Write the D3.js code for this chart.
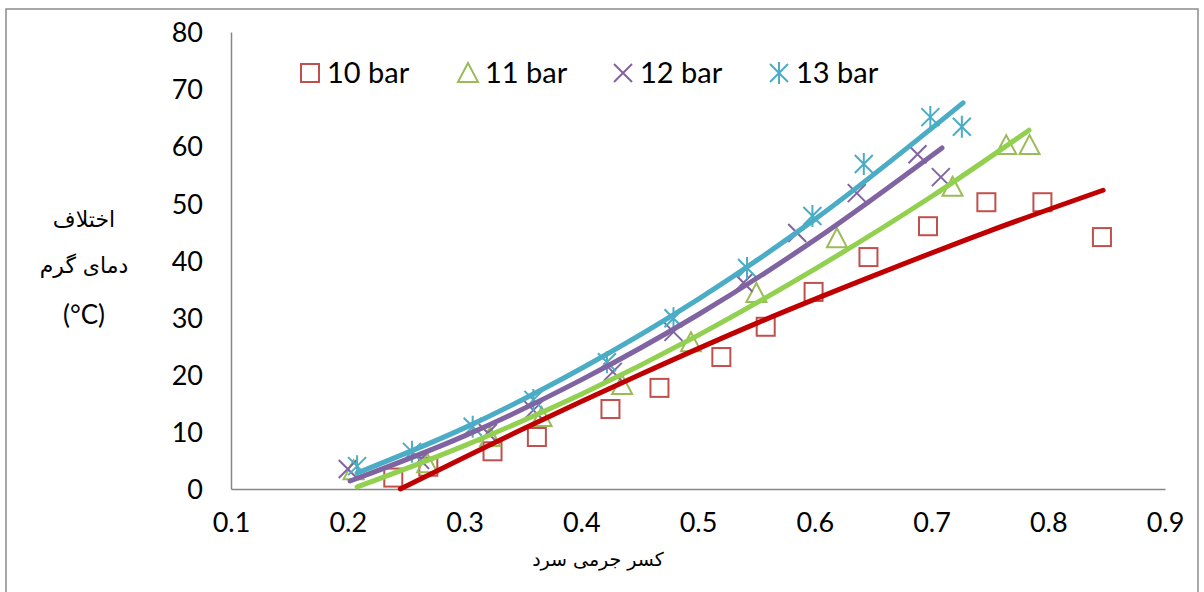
<!DOCTYPE html>
<html>
<head>
<meta charset="utf-8">
<script src="https://cdn.jsdelivr.net/npm/d3@7"></script>
<style>
  body { margin: 0; background: #fff; }
  svg { display: block; }
  .tick text { font-family: Lato, "Open Sans", sans-serif; font-size: 27px; fill: #000; }
  .fa { font-family: "DejaVu Sans", sans-serif; font-size: 22px; fill: #000; }
  .legend text { font-family: Lato, "Open Sans", sans-serif; font-size: 29px; fill: #000; }
</style>
</head>
<body>
<svg id="chart" width="1204" height="592"></svg>
<script>
// measured points, x = cold mass fraction, y = hot temperature difference (°C)
const bar10 = [
  [0.239, 2.0], [0.269, 3.9], [0.324, 6.6], [0.362, 9.1], [0.425, 14.0],
  [0.467, 17.7], [0.520, 23.1], [0.558, 28.4], [0.599, 34.5], [0.646, 40.6],
  [0.697, 46.0], [0.747, 50.2], [0.795, 50.2], [0.846, 44.1]
];
const bar11 = [
  [0.205, 3.3], [0.268, 4.5], [0.322, 9.1], [0.366, 12.6], [0.435, 18.2],
  [0.494, 25.7], [0.550, 34.3], [0.619, 43.9], [0.718, 52.9], [0.764, 60.2],
  [0.784, 60.2]
];
const bar12 = [
  [0.200, 3.5], [0.262, 5.1], [0.320, 9.8], [0.359, 13.8], [0.427, 20.5],
  [0.479, 27.5], [0.539, 36.1], [0.585, 44.8], [0.636, 51.8], [0.688, 58.6],
  [0.708, 54.6]
];
const bar13 = [
  [0.208, 4.0], [0.255, 6.5], [0.307, 10.9], [0.359, 15.6], [0.422, 22.2],
  [0.479, 29.9], [0.542, 38.7], [0.598, 47.8], [0.642, 56.9], [0.699, 65.1],
  [0.726, 63.4]
];

// trend lines
const trend10 = [[0.245, 0], [0.35, 10.5], [0.45, 20.0], [0.55, 29.0], [0.65, 37.3], [0.75, 45.2], [0.847, 52.3]];
const trend11 = [[0.208, 0.35], [0.3, 7.6], [0.4, 16.6], [0.5, 26.9], [0.6, 38.5], [0.7, 51.2], [0.7835, 62.8]];
const trend12 = [[0.202, 1.4], [0.3, 9.3], [0.4, 19.1], [0.5, 30.5], [0.6, 43.6], [0.709, 59.7]];
const trend13 = [[0.208, 2.8], [0.3, 10.7], [0.4, 21.1], [0.5, 33.2], [0.6, 47.2], [0.727, 67.6]];

const seriesNames = ["10 bar", "11 bar", "12 bar", "13 bar"];
const xTicks = [0.1, 0.2, 0.3, 0.4, 0.5, 0.6, 0.7, 0.8, 0.9];
const yTicks = [0, 10, 20, 30, 40, 50, 60, 70, 80];

const MARKER_COLORS = ["#c0504d", "#9bbb59", "#8064a2", "#4bacc6"];
const LINE_COLORS = ["#c00000", "#92d050", "#8064a2", "#4bacc6"];
const SHAPES = ["square", "triangle", "cross", "star"];

const svg = d3.select("#chart");

// outer chart frame
svg.append("rect")
  .attr("x", 6).attr("y", 9)
  .attr("width", 1192).attr("height", 600)
  .attr("fill", "none")
  .attr("stroke", "#8c8c8c")
  .attr("stroke-width", 1.5);

const x = d3.scaleLinear().domain([0.1, 0.9]).range([231, 1165]);
const y = d3.scaleLinear().domain([0, 80]).range([489, 32]);

// axes
const yAxis = svg.append("g")
  .attr("transform", "translate(231,0)")
  .call(d3.axisLeft(y).tickValues(yTicks).tickSize(0).tickPadding(28));
yAxis.select(".domain").attr("stroke", "#868686").attr("stroke-width", 1.5);
yAxis.selectAll(".tick text").attr("dy", "0.36em");

const xAxis = svg.append("g")
  .attr("transform", "translate(0,489)")
  .call(d3.axisBottom(x).tickValues(xTicks).tickFormat(d3.format(".1f")).tickSize(0).tickPadding(24));
xAxis.select(".domain").attr("stroke", "#868686").attr("stroke-width", 1.5);

// marker drawing
function drawMarker(sel, shape, color, s) {
  const h = s / 2;
  if (shape === "square") {
    sel.append("rect").attr("x", -h).attr("y", -h).attr("width", s).attr("height", s)
      .attr("fill", "none").attr("stroke", color).attr("stroke-width", 2);
  } else if (shape === "triangle") {
    sel.append("path").attr("d", `M0,${-h - 1}L${h + 1},${h}L${-h - 1},${h}Z`)
      .attr("fill", "none").attr("stroke", color).attr("stroke-width", 2);
  } else if (shape === "cross") {
    sel.append("path").attr("d", `M${-h},${-h}L${h},${h}M${h},${-h}L${-h},${h}`)
      .attr("stroke", color).attr("stroke-width", 2);
  } else {
    sel.append("path").attr("d", `M${-h},${-h}L${h},${h}M${h},${-h}L${-h},${h}M0,${-h - 2}L0,${h + 2}`)
      .attr("stroke", color).attr("stroke-width", 2);
  }
}

const allPoints = [bar10, bar11, bar12, bar13];
const allTrends = [trend10, trend11, trend12, trend13];

allPoints.forEach((pts, i) => {
  svg.append("g")
    .selectAll("g")
    .data(pts)
    .join("g")
    .attr("transform", (d) => `translate(${x(d[0])},${y(d[1])})`)
    .each(function () { drawMarker(d3.select(this), SHAPES[i], MARKER_COLORS[i], 18); });
});

const line = d3.line()
  .x((d) => x(d[0]))
  .y((d) => y(d[1]))
  .curve(d3.curveMonotoneX);

allTrends.forEach((pts, i) => {
  svg.append("path")
    .datum(pts)
    .attr("d", line)
    .attr("fill", "none")
    .attr("stroke", LINE_COLORS[i])
    .attr("stroke-width", 5)
    .attr("stroke-linecap", "round");
});

// legend
const legendX = [310, 468, 623, 779];
const legend = svg.append("g").attr("class", "legend");
seriesNames.forEach((name, i) => {
  const g = legend.append("g").attr("transform", `translate(${legendX[i]},73)`);
  drawMarker(g, SHAPES[i], MARKER_COLORS[i], 18);
  g.append("text").attr("x", 17).attr("dy", "0.36em").text(name);
});

// axis titles
const yTitle = svg.append("g").attr("class", "fa");
yTitle.append("text").attr("x", 84).attr("y", 227).attr("text-anchor", "middle").attr("direction", "rtl").text("اختلاف");
yTitle.append("text").attr("x", 84).attr("y", 273).attr("text-anchor", "middle").attr("direction", "rtl").text("دمای گرم");
yTitle.append("text").attr("x", 84).attr("y", 324).attr("text-anchor", "middle")
  .style("font-family", "Lato, sans-serif").style("font-size", "26px").text("(°C)");

svg.append("text").attr("class", "fa")
  .attr("x", 598).attr("y", 566)
  .attr("text-anchor", "middle")
  .attr("direction", "rtl")
  .style("font-size", "19px")
  .text("کسر جرمی سرد");
</script>
</body>
</html>
